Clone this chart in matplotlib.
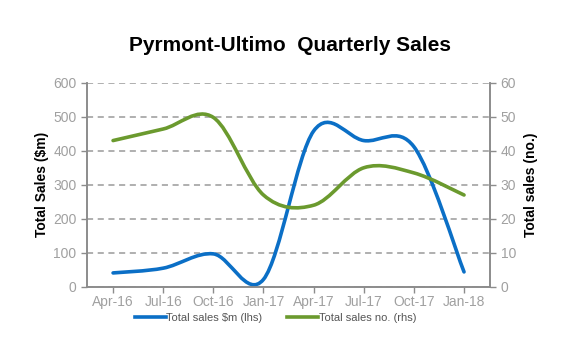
import numpy as np
import matplotlib
matplotlib.use("Agg")
import matplotlib.pyplot as plt
from matplotlib.path import Path
from matplotlib.patches import PathPatch
from matplotlib.lines import Line2D

plt.rcParams["font.family"] = ["Liberation Sans", "DejaVu Sans"]

quarters = ["Apr-16", "Jul-16", "Oct-16", "Jan-17", "Apr-17", "Jul-17", "Oct-17", "Jan-18"]
sales_value = [41, 55, 97, 22, 458, 430, 412, 44]     # $m, left axis
sales_count = [43, 46.4, 49.8, 27, 24, 35, 33.5, 27]  # no., right axis

blue = "#0b6fc6"
green = "#6b9a2e"
grey = "#8c8c8c"


def smooth_path(xs, ys):
    # excel-style smoothed line: cubic bezier through every point
    pts = np.column_stack([xs, ys]).astype(float)
    verts = [pts[0]]
    codes = [Path.MOVETO]
    n = len(pts)
    for i in range(n - 1):
        p0 = pts[i - 1] if i > 0 else pts[i]
        p1 = pts[i]
        p2 = pts[i + 1]
        p3 = pts[i + 2] if i + 2 < n else pts[i + 1]
        c1 = p1 + (p2 - p0) / 6.0
        c2 = p2 - (p3 - p1) / 6.0
        verts += [c1, c2, p2]
        codes += [Path.CURVE4] * 3
    return Path(verts, codes)


fig = plt.figure(figsize=(5.8, 3.52), dpi=100)
ax = fig.add_axes([0.15, 0.185, 0.695, 0.58])
ax2 = ax.twinx()

x = np.arange(len(quarters))
ax.add_patch(PathPatch(smooth_path(x, sales_value), facecolor="none",
                       edgecolor=blue, lw=2.6, capstyle="round", zorder=3))
ax2.add_patch(PathPatch(smooth_path(x, sales_count), facecolor="none",
                        edgecolor=green, lw=2.6, capstyle="round", zorder=3))

ax.set_xlim(-0.52, 7.52)
ax.set_ylim(0, 600)
ax2.set_ylim(0, 60)
ax.set_yticks(range(0, 601, 100))
ax2.set_yticks(range(0, 61, 10))
ax.set_xticks(x)
ax.set_xticklabels(quarters)

ax.grid(axis="y", color="#9a9a9a", ls=(0, (4, 3)), lw=1.1)
ax.set_axisbelow(True)

for a in (ax, ax2):
    a.spines["top"].set_visible(False)
    for s in ("left", "right", "bottom"):
        a.spines[s].set_color(grey)
        a.spines[s].set_linewidth(1.2)
    a.tick_params(colors=grey, labelcolor="#a0a0a0", labelsize=10, length=4, width=1)
ax.tick_params(axis="x", pad=2)

ax.set_ylabel("Total Sales ($m)", fontsize=10, fontweight="bold", labelpad=3)
ax2.set_ylabel("Total sales (no.)", fontsize=10, fontweight="bold", labelpad=6)

fig.text(0.5, 0.872, "Pyrmont-Ultimo  Quarterly Sales", ha="center", va="center",
         fontsize=15, fontweight="bold")

handles = [Line2D([], [], color=blue, lw=2.6), Line2D([], [], color=green, lw=2.6)]
fig.legend(handles, ["Total sales $m (lhs)", "Total sales no. (rhs)"],
           loc="center", bbox_to_anchor=(0.475, 0.097), ncol=2, frameon=False,
           fontsize=8, handlelength=2.8, handletextpad=0.05, columnspacing=2.2,
           labelcolor="#555555")

fig.savefig("out.png", dpi=100)
